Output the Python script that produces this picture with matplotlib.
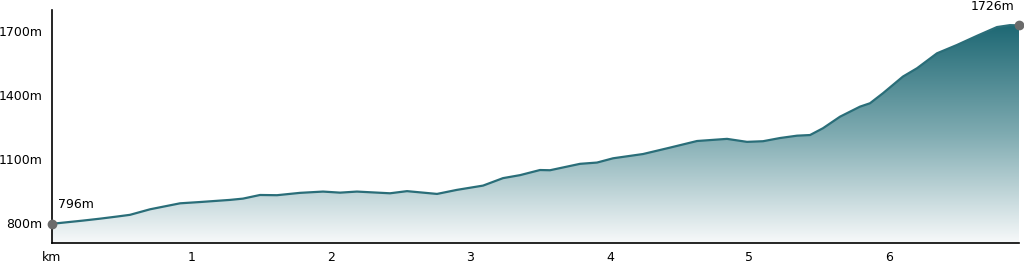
import numpy as np
import matplotlib
matplotlib.use("Agg")
import matplotlib.pyplot as plt
from matplotlib.colors import LinearSegmentedColormap

# distance (km) and elevation (m)
dist_km = [0.0, 0.222, 0.344, 0.466, 0.559, 0.703, 0.918, 1.061, 1.276, 1.369,
           1.491, 1.613, 1.778, 1.943, 2.065, 2.186, 2.423, 2.545, 2.760, 2.903,
           3.090, 3.233, 3.355, 3.498, 3.570, 3.785, 3.907, 4.022, 4.237, 4.430,
           4.624, 4.839, 4.982, 5.097, 5.219, 5.341, 5.434, 5.527, 5.649, 5.792,
           5.864, 5.957, 6.100, 6.201, 6.344, 6.487, 6.631, 6.774, 6.867, 6.932]
elev_m = [796, 811, 820, 830, 838, 864, 892, 898, 908, 914,
          931, 930, 941, 947, 942, 947, 939, 949, 936, 955,
          975, 1010, 1024, 1048, 1047, 1077, 1083, 1103, 1123, 1153,
          1184, 1194, 1180, 1183, 1198, 1209, 1212, 1244, 1298, 1345,
          1361, 1408, 1486, 1525, 1595, 1634, 1677, 1718, 1727, 1726]

yticks = [800, 1100, 1400, 1700]
ytick_labels = ["800m", "1100m", "1400m", "1700m"]
xticks = [0, 1, 2, 3, 4, 5, 6]
xtick_labels = ["km", "1", "2", "3", "4", "5", "6"]

line_col = "#2a6e79"
ymin, ymax = 706, 1798
fs = 9

fig = plt.figure(figsize=(10.24, 2.63), dpi=100)
ax = fig.add_axes([52 / 1024, 20 / 263, 967 / 1024, 233 / 263])

x = np.array(dist_km)
y = np.array(elev_m)

# gradient fill under the profile
cmap = LinearSegmentedColormap.from_list("grad", ["#f7f9fa", "#7fabb1", "#1e6874"])
poly = ax.fill_between(x, ymin, y, color="none", lw=0)
grad = np.linspace(0, 1, 256).reshape(-1, 1)
img = ax.imshow(grad, cmap=cmap, aspect="auto", origin="lower",
                extent=[x[0], x[-1], ymin, y.max()], zorder=1)
img.set_clip_path(poly.get_paths()[0], transform=ax.transData)

ax.plot(x, y, color=line_col, lw=1.6, zorder=3, solid_capstyle="round", solid_joinstyle="round")
ax.plot([x[0], x[-1]], [y[0], y[-1]], "o", color="#6b6b6b", ms=6, zorder=4, clip_on=False)

ax.annotate(f"{elev_m[0]}m", (x[0], y[0]), xytext=(4, 9), textcoords="offset points",
            fontsize=fs, ha="left", va="bottom", annotation_clip=False)
ax.annotate(f"{elev_m[-1]}m", (x[-1], y[-1]), xytext=(-3, 9), textcoords="offset points",
            fontsize=fs, ha="right", va="bottom", annotation_clip=False)

ax.set_xlim(0, x[-1])
ax.set_ylim(ymin, ymax)
ax.set_xticks(xticks)
ax.set_xticklabels(xtick_labels)
ax.set_yticks(yticks)
ax.set_yticklabels(ytick_labels)
ax.tick_params(length=0, labelsize=fs)
ax.tick_params(axis="x", pad=6)
ax.tick_params(axis="y", pad=7)
for s in ["top", "right"]:
    ax.spines[s].set_visible(False)
for s in ["left", "bottom"]:
    ax.spines[s].set_linewidth(1.2)

fig.savefig("out.png", dpi=100)
